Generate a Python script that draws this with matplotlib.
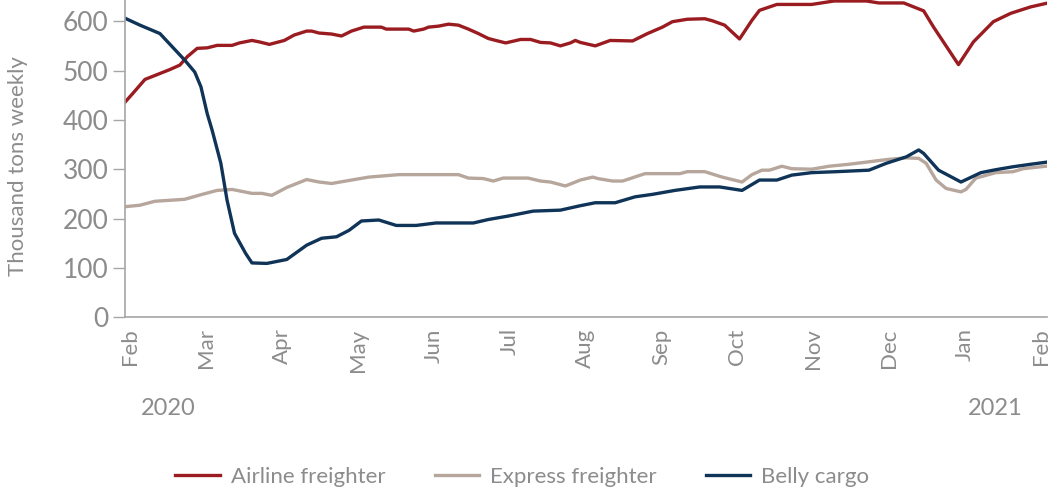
import matplotlib.pyplot as plt
import matplotlib.ticker as mticker
import matplotlib.dates as mdates
import pandas as pd

# Data (days since 2020-02-01, thousand tons weekly)
airline_days = [0, 3, 8, 12, 18, 22, 25, 29, 33, 37, 43, 46, 51, 54, 58, 64, 68, 73, 75, 78,
                83, 87, 91, 96, 103, 105, 114, 116, 120, 122, 126, 130, 134, 138, 142, 146,
                149, 153, 159, 163, 167, 171, 175, 179, 181, 183, 189, 195, 204, 210, 216,
                220, 226, 233, 236, 241, 247, 252, 255, 262, 276, 285, 298, 303, 313, 321,
                325, 335, 341, 349, 356, 364, 371]
airline_vals = [436, 453, 482, 490, 502, 511, 528, 545, 546, 551, 551, 556, 561, 558, 553, 561,
                572, 580, 580, 576, 574, 570, 580, 588, 588, 584, 584, 580, 584, 588, 590, 594,
                592, 584, 575, 565, 561, 556, 563, 563, 557, 556, 550, 556, 561, 557, 550, 561,
                560, 575, 588, 599, 604, 605, 601, 592, 564, 602, 622, 634, 634, 641, 641, 637,
                637, 621, 588, 512, 558, 599, 616, 629, 637]

express_days = [0, 6, 12, 24, 31, 37, 43, 51, 55, 59, 65, 73, 78, 83, 91, 98, 110, 134, 138,
                144, 148, 152, 162, 167, 171, 177, 183, 188, 190, 196, 200, 209, 223, 226, 233,
                240, 248, 252, 256, 259, 264, 268, 276, 283, 291, 299, 307, 314, 319, 322, 326,
                330, 336, 338, 342, 350, 357, 361, 370]
express_vals = [224, 227, 235, 239, 249, 257, 259, 251, 251, 247, 263, 279, 274, 271, 278, 284,
                289, 289, 282, 281, 276, 282, 282, 276, 274, 266, 278, 284, 281, 276, 276, 291,
                291, 295, 295, 284, 274, 289, 298, 298, 306, 301, 300, 306, 310, 315, 320, 323,
                322, 312, 278, 261, 254, 259, 282, 293, 295, 301, 306]

belly_days = [0, 6, 14, 19, 24, 28, 30.5, 33, 35, 38.5, 41, 44, 48.5, 51, 57, 65, 73, 79, 85,
              90, 95, 102, 109, 117, 125, 140, 146, 154, 164, 175, 183, 189, 197, 205, 212,
              221, 231, 239, 248, 255, 262, 268, 276, 286, 299, 306, 314, 319, 321, 327, 336,
              344, 350, 357, 364, 370]
belly_vals = [606, 592, 575, 548, 521, 497, 467, 413, 379, 312, 237, 170, 129, 110, 109, 117,
              146, 160, 163, 176, 195, 197, 186, 186, 191, 191, 198, 205, 215, 217, 226, 232,
              232, 244, 249, 257, 264, 264, 257, 278, 278, 288, 293, 295, 298, 312, 325, 339,
              332, 298, 274, 293, 299, 305, 310, 314]

month_labels = ['Feb', 'Mar', 'Apr', 'May', 'Jun', 'Jul', 'Aug', 'Sep', 'Oct', 'Nov', 'Dec',
                'Jan', 'Feb']

start = pd.Timestamp('2020-02-01')


def to_dates(days):
    return [start + pd.Timedelta(days=d) for d in days]


red = '#9a1c21'
tan = '#b6a69c'
navy = '#0f3458'
grey = '#8c8c8c'

plt.rcParams['font.family'] = ['Lato', 'DejaVu Sans']

fig = plt.figure(figsize=(10.51, 4.91), dpi=100)
ax = fig.add_axes([0.119, 0.354, 0.877, 0.646])

ax.plot(to_dates(airline_days), airline_vals, color=red, lw=2.4, label='Airline freighter')
ax.plot(to_dates(express_days), express_vals, color=tan, lw=2.4, label='Express freighter')
ax.plot(to_dates(belly_days), belly_vals, color=navy, lw=2.4, label='Belly cargo')

ax.set_ylim(0, 643)
ax.set_xlim(start, start + pd.Timedelta(days=370.5))
ax.set_yticks(range(0, 601, 100))

# month labels sit at an even spacing in the reference
tick_pos = [mdates.date2num(start) + 2 + i * 30.5 for i in range(len(month_labels))]
ax.xaxis.set_major_locator(mticker.FixedLocator(tick_pos))
ax.xaxis.set_major_formatter(mticker.FixedFormatter(month_labels))
plt.setp(ax.get_xticklabels(), rotation=90, ha='center', va='top')

ax.tick_params(axis='x', length=0, pad=8, labelsize=16, labelcolor=grey)
ax.tick_params(axis='y', length=9, width=1, color='#a6a6a6', labelsize=19, labelcolor=grey, pad=3)

for s in ['top', 'right']:
    ax.spines[s].set_visible(False)
for s in ['left', 'bottom']:
    ax.spines[s].set_color('#a6a6a6')
    ax.spines[s].set_linewidth(1.2)

ax.set_ylabel('Thousand tons weekly', color=grey, fontsize=16)
ax.yaxis.set_label_coords(-0.105, 0.475)

fig.text(0.160, 0.168, '2020', color=grey, fontsize=17, ha='center', va='center')
fig.text(0.947, 0.168, '2021', color=grey, fontsize=17, ha='center', va='center')

fig.legend(loc='center', bbox_to_anchor=(0.497, 0.028), ncol=3, frameon=False,
           fontsize=16, labelcolor=grey, handlelength=2.0, columnspacing=2.2,
           handletextpad=0.5)

fig.savefig('out.png', dpi=100)
